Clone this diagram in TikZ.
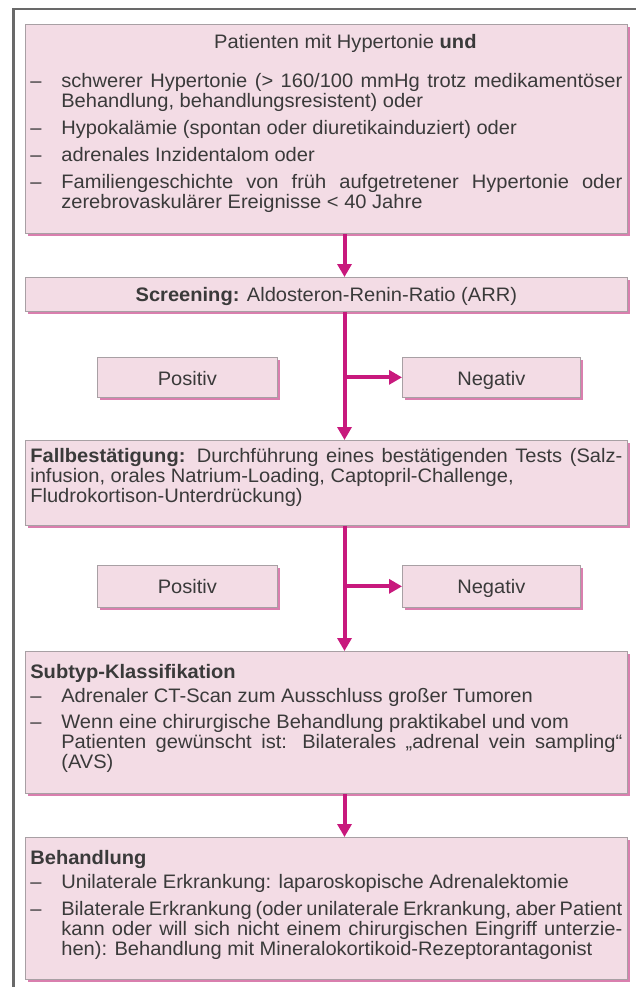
\documentclass[tikz,border=0pt]{standalone}
\usepackage{fontspec}
\setmainfont{Liberation Sans}[FakeStretch=1.03]
\usetikzlibrary{arrows.meta,shadows}
\definecolor{boxfill}{RGB}{243,220,229}
\definecolor{shadowc}{RGB}{210,105,160}
\definecolor{boxline}{RGB}{168,160,164}
\definecolor{arrowc}{RGB}{200,25,125}
\definecolor{framec}{RGB}{105,105,105}
\definecolor{txt}{RGB}{58,58,58}
\newcommand\jl[1]{\makebox[561pt][s]{#1}}
\newcommand\bul{\par\hangindent=31pt\hangafter=1\noindent\makebox[31pt][l]{–}}
\newcommand\bx[4]{\parbox[c][#1][t]{#2}{\lineskiplimit=-30pt\relax\rule{0pt}{#3}#4}}
\tikzset{
  pbox/.style={draw=boxline, line width=0.7pt, fill=boxfill, inner xsep=5pt, inner ysep=0pt,
    anchor=north west, text=txt, font=\fontsize{19.5pt}{20pt}\selectfont,
    drop shadow={shadow xshift=3pt, shadow yshift=-3pt, fill=shadowc, draw=none, opacity=0.85}},
  flow/.style={draw=arrowc, line width=4pt, -{Triangle[length=13pt,width=14pt]}},
}
\begin{document}
\begin{tikzpicture}[x=1pt,y=-1pt]
\useasboundingbox (0,0) rectangle (636,987);
\draw[framec, line width=2.2pt] (13.5,990) -- (13.5,9) -- (640,9);
\coordinate (ax) at (344.5,0);

\node[pbox] (top) at (25,24) {\bx{209pt}{592pt}{24pt}{%
\makebox[592pt][c]{\hspace{38pt}Patienten mit Hypertonie \textbf{und}}\par\vspace{19pt}
\bul\jl{schwerer Hypertonie (> 160/100 mmHg trotz medikamentöser}\\Behandlung, behandlungsresistent) oder\par\vspace{7pt}
\bul Hypokalämie (spontan oder diuretikainduziert) oder\par\vspace{7pt}
\bul adrenales Inzidentalom oder\par\vspace{7pt}
\bul\jl{Familiengeschichte von früh aufgetretener Hypertonie oder}\\zerebrovaskulärer Ereignisse < 40 Jahre}};

\node[pbox] (scr) at (25,277) {\bx{34pt}{592pt}{24pt}{\makebox[592pt][c]{\textbf{Screening:} Aldosteron-Renin-Ratio (ARR)}}};

\node[pbox] (pos1) at (97,357) {\bx{40pt}{170pt}{28pt}{\makebox[170pt][c]{Positiv}}};
\node[pbox] (neg1) at (402,357) {\bx{40pt}{168pt}{28pt}{\makebox[168pt][c]{Negativ}}};

\node[pbox] (fall) at (25,440) {\bx{85pt}{592pt}{22pt}{%
\makebox[592pt][s]{\textbf{Fallbestätigung:} Durchführung eines bestätigenden Tests (Salz-}\\
infusion, orales Natrium-Loading, Captopril-Challenge,\\
Fludrokortison-Unterdrückung)}};

\node[pbox] (pos2) at (97,565) {\bx{42pt}{170pt}{28pt}{\makebox[170pt][c]{Positiv}}};
\node[pbox] (neg2) at (402,565) {\bx{42pt}{168pt}{28pt}{\makebox[168pt][c]{Negativ}}};

\node[pbox] (sub) at (25,651) {\bx{142pt}{592pt}{27pt}{%
\textbf{Subtyp-Klassifikation}\par\vspace{4pt}
\bul Adrenaler CT-Scan zum Ausschluss großer Tumoren\par\vspace{6pt}
\bul Wenn eine chirurgische Behandlung praktikabel und vom\\\jl{Patienten gewünscht ist: Bilaterales „adrenal vein sampling“}\\(AVS)}};

\node[pbox] (beh) at (25,837) {\bx{142pt}{592pt}{27pt}{%
\textbf{Behandlung}\par\vspace{4pt}
\bul Unilaterale Erkrankung: laparoskopische Adrenalektomie\par\vspace{7pt}
\bul\jl{Bilaterale Erkrankung (oder unilaterale Erkrankung, aber Patient}\\\jl{kann oder will sich nicht einem chirurgischen Eingriff unterzie-}\\hen): Behandlung mit Mineralokortikoid-Rezeptorantagonist}};

\draw[flow] (top.south -| ax) -- (scr.north -| ax);
\draw[flow] (scr.south -| ax) -- (fall.north -| ax);
\draw[flow] (neg1.west -| ax) -- (neg1.west);
\draw[flow] (fall.south -| ax) -- (sub.north -| ax);
\draw[flow] (neg2.west -| ax) -- (neg2.west);
\draw[flow] (sub.south -| ax) -- (beh.north -| ax);
\end{tikzpicture}
\end{document}
